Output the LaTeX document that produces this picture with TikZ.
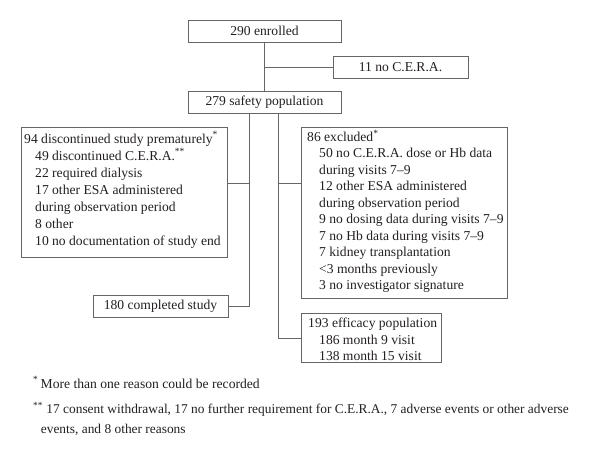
\documentclass[tikz,border=0pt]{standalone}
\usepackage{fontspec}
\setmainfont{Liberation Serif}
\definecolor{linegray}{HTML}{666666}
\definecolor{txt}{HTML}{231F20}
\tikzset{
  box/.style={draw=linegray, line width=0.9pt, inner sep=0pt, rectangle, text=txt,
    font=\fontsize{13.6}{16.5}\selectfont},
  conn/.style={draw=linegray, line width=0.9pt},
  txtblk/.style={inner sep=0pt, align=left, text=txt, anchor=north west},
}
\begin{document}
\begin{tikzpicture}[x=1pt, y=-1pt]
\useasboundingbox (0,0) rectangle (600,458);
% simple boxes
\node[box, minimum width=153pt, minimum height=22pt] (enrolled) at (264.5,31) {290 enrolled};
\node[box, minimum width=135pt, minimum height=22pt] (nocera) at (400.5,67) {11 no C.E.R.A.};
\node[box, minimum width=153pt, minimum height=22pt] (safety) at (264.5,102) {279 safety population};
\node[box, minimum width=135pt, minimum height=22pt] (completed) at (160.5,306) {180 completed study};
% large boxes
\node[box, anchor=north west, minimum width=206pt, minimum height=130pt] (disc) at (21,127) {};
\node[box, anchor=north west, minimum width=206pt, minimum height=171pt] (excl) at (301,127) {};
\node[box, anchor=north west, minimum width=140pt, minimum height=49pt] (effic) at (301,313) {};
% texts of large boxes
\node[txtblk, font=\fontsize{13.6}{17.1}\selectfont] (disctext) at (24,130.9)
 {\rule{0pt}{12pt}94 discontinued study prematurely\textsuperscript{*}\\
  \hspace*{11pt}49 discontinued C.E.R.A.\textsuperscript{**}\\
  \hspace*{11pt}22 required dialysis\\
  \hspace*{11pt}17 other ESA administered\\
  \hspace*{11pt}during observation period\\
  \hspace*{11pt}8 other\\
  \hspace*{11pt}10 no documentation of study end};
\node[txtblk, font=\fontsize{13.6}{16.45}\selectfont] (excltext) at (307,129.3)
 {\rule{0pt}{12pt}86 excluded\textsuperscript{*}\\
  \hspace*{12pt}50 no C.E.R.A. dose or Hb data\\
  \hspace*{12pt}during visits 7–9\\
  \hspace*{12pt}12 other ESA administered\\
  \hspace*{12pt}during observation period\\
  \hspace*{12pt}9 no dosing data during visits 7–9\\
  \hspace*{12pt}7 no Hb data during visits 7–9\\
  \hspace*{12pt}7 kidney transplantation\\
  \hspace*{12pt}<3 months previously\\
  \hspace*{12pt}3 no investigator signature};
\node[txtblk, font=\fontsize{13.6}{16.7}\selectfont] (effictext) at (308,315.3)
 {\rule{0pt}{12pt}193 efficacy population\\
  \hspace*{11pt}186 month 9 visit\\
  \hspace*{11pt}138 month 15 visit};
% connectors
\coordinate (b1) at (enrolled.south |- nocera.west);
\draw[conn] (enrolled) -- (safety);
\draw[conn] (b1) -- (nocera.west);
\coordinate (sL) at (249,113);
\coordinate (sR) at (278,113);
\coordinate (jL) at (249,183);
\coordinate (jR) at (278,183);
\draw[conn] (sL) |- (completed.east);
\draw[conn] (sR) |- (effic.west);
\draw[conn] (jL) -- (jL -| disc.east);
\draw[conn] (jR) -- (jR -| excl.west);
% footnotes
\node[inner sep=0pt, anchor=base west, text=txt, font=\fontsize{13.6}{16.5}\selectfont] (fn1) at (33,388)
 {\textsuperscript{*}\,More than one reason could be recorded};
\node[txtblk, font=\fontsize{13.4}{19.4}\selectfont] (fn2) at (33,401.6)
 {\rule{0pt}{12pt}\textsuperscript{**} 17 consent withdrawal, 17 no further requirement for C.E.R.A., 7 adverse events or other adverse\\
  \hspace*{7.7pt}events, and 8 other reasons};
\end{tikzpicture}
\end{document}
